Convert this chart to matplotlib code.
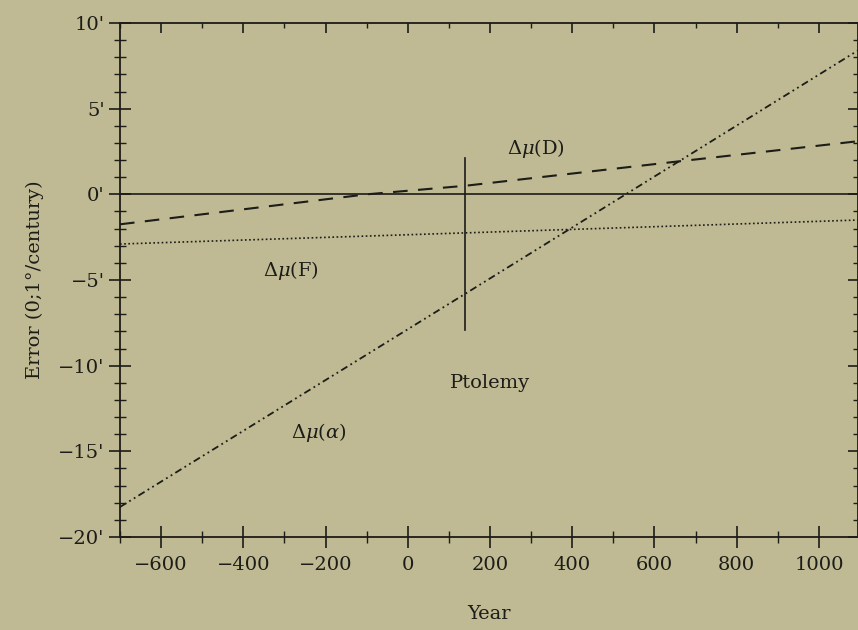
import numpy as np
import matplotlib.pyplot as plt
from matplotlib.ticker import MultipleLocator, FixedLocator

# ------------------------------------------------------------
# Data
# ------------------------------------------------------------

years_D = [-700, -100, 140, 650, 1095]
err_D = [-1.75, 0.0, 0.5, 1.9, 3.1]

years_F = [-700, 140, 1095]
err_F = [-2.9, -2.25, -1.5]

years_alpha = [-700, 140, 530, 1095]
err_alpha = [-18.25, -5.8, 0.0, 8.4]

ptolemy_year = 140
ptolemy_span = [2.1, -7.9]

x_ticks = [-600, -400, -200, 0, 200, 400, 600, 800, 1000]
x_tick_labels = ["\u2212600", "\u2212400", "\u2212200", "0", "200", "400", "600", "800", "1000"]
y_ticks = [10, 5, 0, -5, -10, -15, -20]
y_tick_labels = ["10'", "5'", "0'", "\u22125'", "\u221210'", "\u221215'", "\u221220'"]

# ------------------------------------------------------------
# Figure
# ------------------------------------------------------------

bg = "#bfba93"
ink = "#1c1c18"

plt.rcParams["font.family"] = ["DejaVu Serif"]
plt.rcParams["mathtext.fontset"] = "dejavuserif"

fig = plt.figure(figsize=(8.58, 6.30), dpi=100, facecolor=bg)
ax = fig.add_axes([120 / 858, 1 - 537 / 630, 738 / 858, 514 / 630])
ax.set_facecolor(bg)

ax.set_xlim(-700, 1095)
ax.set_ylim(-20, 10)

ax.plot(years_D, err_D, color=ink, lw=1.5, dashes=(7, 5))
ax.plot(years_F, err_F, color=ink, lw=1.2, dashes=(1, 1.5))
ax.plot(years_alpha, err_alpha, color=ink, lw=1.3, dashes=(4, 2, 1, 2, 1, 2))

ax.axhline(0, color=ink, lw=1.2)
ax.plot([ptolemy_year, ptolemy_year], ptolemy_span, color=ink, lw=1.2)

ax.text(311, 2.7, r"$\Delta\mu$(D)", fontsize=14, color=ink, ha="center", va="center")
ax.text(-284, -4.45, r"$\Delta\mu$(F)", fontsize=14, color=ink, ha="center", va="center")
ax.text(-216, -13.9, r"$\Delta\mu$($\alpha$)", fontsize=14, color=ink, ha="center", va="center")
ax.text(201, -11.0, "Ptolemy", fontsize=14, color=ink, ha="center", va="center")

# spines
for side in ["left", "bottom", "top", "right"]:
    ax.spines[side].set_color(ink)
    ax.spines[side].set_linewidth(1.3)

# bottom / left ticks cross the axis
ax.xaxis.set_major_locator(FixedLocator(x_ticks))
ax.xaxis.set_minor_locator(MultipleLocator(100))
ax.set_xticklabels(x_tick_labels)
ax.yaxis.set_major_locator(FixedLocator(y_ticks))
ax.yaxis.set_minor_locator(MultipleLocator(1))
ax.set_yticklabels(y_tick_labels)

ax.tick_params(which="major", direction="inout", length=16, width=1.2, colors=ink,
               labelsize=14, top=False, right=False)
ax.tick_params(which="minor", direction="inout", length=8.5, width=1.0, colors=ink,
               top=False, right=False)
ax.tick_params(axis="x", which="major", pad=6)
ax.tick_params(axis="y", which="major", pad=3)

# top / right ticks point inward
top = ax.secondary_xaxis("top")
top.xaxis.set_major_locator(FixedLocator(x_ticks))
top.xaxis.set_minor_locator(MultipleLocator(100))
top.tick_params(which="major", direction="in", length=7, width=1.2, colors=ink, labeltop=False)
top.tick_params(which="minor", direction="in", length=3.6, width=1.0, colors=ink)
top.spines["top"].set_visible(False)

right = ax.secondary_yaxis("right")
right.yaxis.set_major_locator(FixedLocator(y_ticks))
right.yaxis.set_minor_locator(MultipleLocator(1))
right.tick_params(which="major", direction="in", length=7, width=1.2, colors=ink, labelright=False)
right.tick_params(which="minor", direction="in", length=3.6, width=1.0, colors=ink)
right.spines["right"].set_visible(False)

ax.set_xlabel("Year", fontsize=14, color=ink, labelpad=22)
ax.set_ylabel("Error (0;1\u00b0/century)", fontsize=14, color=ink, labelpad=10)

fig.savefig("out.png", dpi=100, facecolor=bg)
